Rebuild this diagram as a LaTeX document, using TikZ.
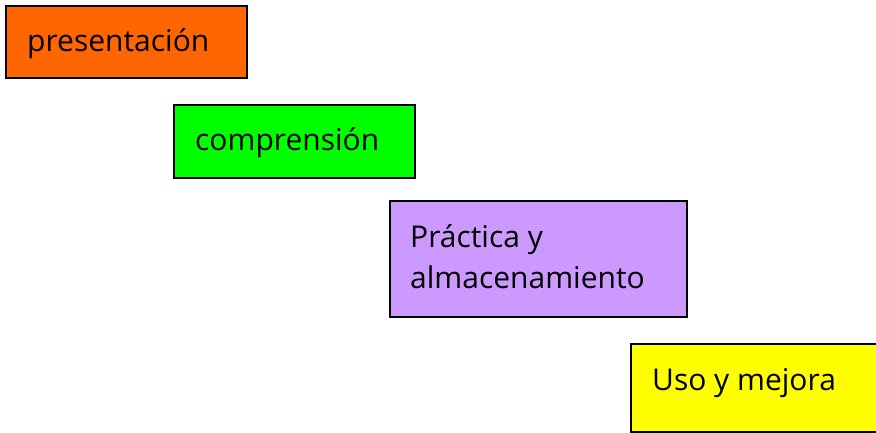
\documentclass[tikz,border=0pt]{standalone}
\usepackage{fontspec}
\setmainfont{Open Sans}
\definecolor{cOrange}{HTML}{FF6600}
\definecolor{cGreen}{HTML}{00FF00}
\definecolor{cPurple}{HTML}{CC99FF}
\definecolor{cYellow}{HTML}{FFFF00}
\tikzset{
  boxshape/.style={draw=black, line width=1.6pt, rectangle, inner sep=0pt},
  lbl/.style={anchor=base west, inner sep=0pt, font=\fontsize{30}{34}\selectfont},
}
\begin{document}
\begin{tikzpicture}[x=1pt,y=-1pt]
\useasboundingbox (0,0) rectangle (876,432);
\clip (0,0) rectangle (876,432);
\node[boxshape, fill=cOrange, minimum width=241pt, minimum height=72pt, anchor=north west] (b1) at (5,5) {};
\node[boxshape, fill=cGreen, minimum width=241pt, minimum height=73pt, anchor=north west] (b2) at (173,104) {};
\node[boxshape, fill=cPurple, minimum width=297pt, minimum height=116pt, anchor=north west] (b3) at (389,200) {};
\node[boxshape, fill=cYellow, minimum width=260pt, minimum height=88pt, anchor=north west] (b4) at (630,343) {};
\node[lbl] (t1) at (27,51) {presentación};
\node[lbl] (t2) at (195,150) {comprensión};
\node[lbl] (t3a) at (410,247) {Práctica y};
\node[lbl] (t3b) at (410,288) {almacenamiento};
\node[lbl] (t4) at (652,390) {Uso y mejora};
\end{tikzpicture}
\end{document}
